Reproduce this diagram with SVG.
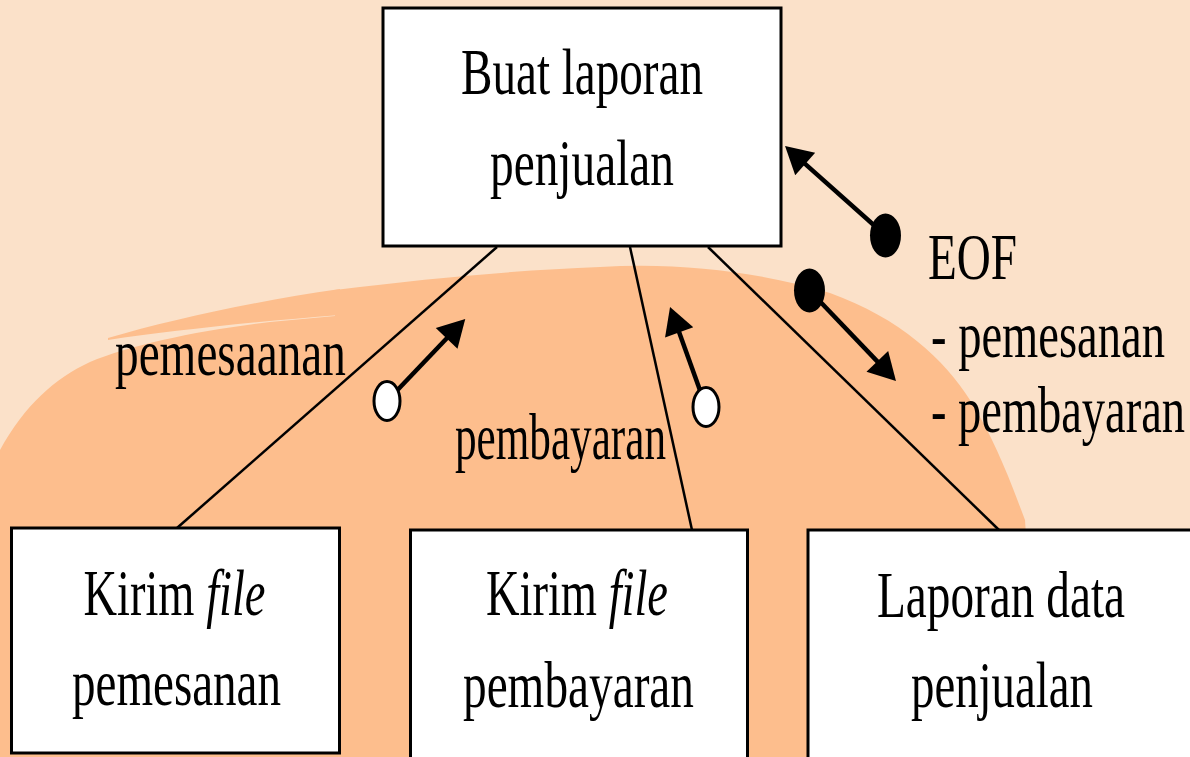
<svg xmlns="http://www.w3.org/2000/svg" width="1190" height="757" viewBox="0 0 1190 757">
<style>
.bg{fill:#FBE1C9}
.blob{fill:#FDBE8D}
.box{fill:#fff;stroke:#000;stroke-width:3}
.t{font-family:"Liberation Serif","Times New Roman",serif;font-size:66px;fill:#000}
.conn{stroke:#000;stroke-width:2.5;fill:none}
.arr{stroke:#000;stroke-width:4.5;fill:none}
.open{fill:#fff;stroke:#000;stroke-width:3}
.dot{fill:#000}
</style>
<defs>
<marker id="ah" markerUnits="userSpaceOnUse" markerWidth="30" markerHeight="30" viewBox="0 0 27 30" refX="2" refY="15" orient="auto">
<path d="M0,0 L27,15 L0,30 Z" fill="#000"/>
</marker>
</defs>
<rect class="bg" x="0" y="0" width="1190" height="757"/>
<path class="blob" d="M0,757 L0,450 C25,405 55,378 90,362 C130,345 200,330 270,322 L335,316 L335,290 C430,278 520,270 600,267 C680,262 760,272 830,293 C900,318 945,360 970,400 C995,440 1010,480 1025,520 L1040,757 Z"/>
<path class="blob" d="M108,338 C170,320 250,302 340,289 L340,315 C250,322 170,331 108,340 Z"/>
<g id="connectors">
<line class="conn" x1="497" y1="247" x2="177" y2="528"/>
<line class="conn" x1="630" y1="247" x2="692" y2="530"/>
<line class="conn" x1="708" y1="247" x2="999" y2="530"/>
<line class="arr" x1="387" y1="401" x2="448" y2="337" marker-end="url(#ah)"/>
<line class="arr" x1="706" y1="407" x2="678.5" y2="330.5" marker-end="url(#ah)"/>
<line class="arr" x1="809.5" y1="290.5" x2="878.7" y2="362.9" marker-end="url(#ah)"/>
<line class="arr" x1="885.5" y1="235.5" x2="803.7" y2="162.6" marker-end="url(#ah)"/>
<ellipse class="open" cx="387" cy="401" rx="13" ry="19.5"/>
<ellipse class="open" cx="706" cy="407" rx="13" ry="19.5"/>
<ellipse class="dot" cx="809.5" cy="290.5" rx="15.5" ry="22"/>
<ellipse class="dot" cx="885.5" cy="235.5" rx="15.5" ry="22"/>
</g>
<g id="labels">
<text class="t" x="115" y="375" textLength="231" lengthAdjust="spacingAndGlyphs">pemesaanan</text>
<text class="t" x="455" y="459" textLength="211" lengthAdjust="spacingAndGlyphs">pembayaran</text>
<text class="t" x="928" y="279" textLength="89" lengthAdjust="spacingAndGlyphs">EOF</text>
<text class="t" x="931" y="357" textLength="234" lengthAdjust="spacingAndGlyphs">- pemesanan</text>
<text class="t" x="931" y="432" textLength="254" lengthAdjust="spacingAndGlyphs">- pembayaran</text>
</g>
<g id="node-buat">
<rect class="box" x="383" y="8" width="398" height="238"/>
<text class="t" x="461" y="94" textLength="242" lengthAdjust="spacingAndGlyphs">Buat laporan</text>
<text class="t" x="490" y="185" textLength="184" lengthAdjust="spacingAndGlyphs">penjualan</text>
</g>
<g id="node-kirim-pemesanan">
<rect class="box" x="11.5" y="528" width="328" height="225"/>
<text class="t" x="83.5" y="615" textLength="182" lengthAdjust="spacingAndGlyphs">Kirim <tspan font-style="italic">file</tspan></text>
<text class="t" x="72" y="705" textLength="209" lengthAdjust="spacingAndGlyphs">pemesanan</text>
</g>
<g id="node-kirim-pembayaran">
<rect class="box" x="410.5" y="530" width="337" height="232"/>
<text class="t" x="486" y="615" textLength="182" lengthAdjust="spacingAndGlyphs">Kirim <tspan font-style="italic">file</tspan></text>
<text class="t" x="463" y="707" textLength="231" lengthAdjust="spacingAndGlyphs">pembayaran</text>
</g>
<g id="node-laporan">
<rect class="box" x="808" y="530" width="400" height="232"/>
<text class="t" x="877" y="617" textLength="248" lengthAdjust="spacingAndGlyphs">Laporan data</text>
<text class="t" x="911" y="707" textLength="182" lengthAdjust="spacingAndGlyphs">penjualan</text>
</g>
</svg>
